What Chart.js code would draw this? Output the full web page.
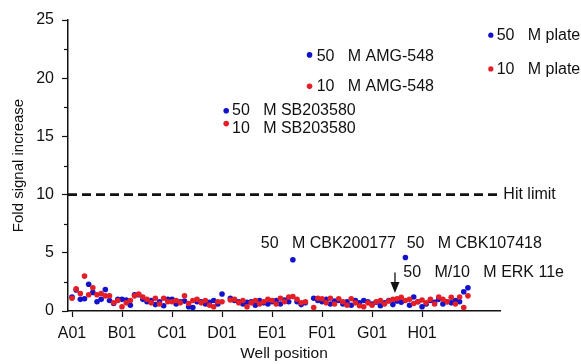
<!DOCTYPE html>
<html>
<head>
<meta charset="utf-8">
<script src="https://cdn.jsdelivr.net/npm/chart.js@4.4.1/dist/chart.umd.min.js"></script>
<style>
  html, body { margin: 0; padding: 0; background: #ffffff; }
  #wrap { width: 581px; height: 364px; position: relative; }
</style>
</head>
<body>
<div id="wrap"><canvas id="c" width="581" height="364"></canvas></div>
<script>
// ---- Data ----
const rowTickLabels = ['A01','B01','C01','D01','E01','F01','G01','H01'];
const wellsPerRow = 12;

// 50 µM screen (blue), well index 0..95 (A01..H12)
const blue50 = [
  1.2, 1.8, 1.0, 1.05, 2.3, 1.6, 0.8, 1.0, 1.85, 0.9, 0.65, 1.0,
  1.0, 0.95, 0.5, 1.4, 1.4, 1.0, 0.8, 0.9, 0.55, 0.8, 0.45, 1.0,
  1.0, 0.6, 0.8, 0.85, 0.37, 0.3, 0.8, 0.8, 0.6, 0.75, 0.9, 0.6,
  1.46, 17.2, 1.1, 0.9, 0.8, 0.6, 0.75, 0.8, 0.5, 0.9, 0.7, 0.6,
  0.8, 0.9, 0.6, 0.95, 0.8, 4.4, 0.8, 0.55, 0.7, 22.0, 1.1, 0.9,
  0.8, 1.0, 0.6, 0.85, 0.9, 0.6, 0.8, 0.5, 0.9, 0.7, 0.9, 0.8,
  0.6, 0.75, 0.45, 0.7, 0.9, 0.55, 0.85, 0.75, 4.6, 0.5, 1.2, 0.8,
  0.37, 0.6, 0.9, 0.75, 1.0, 0.6, 0.8, 0.7, 0.9, 0.8, 1.65, 2.0
];
// 10 µM screen (red)
const red10 = [
  1.1, 1.9, 1.5, 3.0, 1.4, 2.0, 1.4, 1.5, 1.3, 1.3, 0.7, 0.9,
  0.37, 0.7, 0.9, 1.3, 1.45, 1.2, 1.0, 0.7, 1.1, 0.6, 1.1, 0.8,
  0.8, 0.9, 0.7, 1.3, 0.65, 0.9, 1.0, 0.7, 0.9, 0.5, 0.37, 0.8,
  0.8, 16.1, 0.95, 1.0, 0.7, 0.9, 0.37, 0.7, 0.9, 0.6, 0.8, 1.0,
  0.9, 0.6, 1.1, 0.8, 1.2, 1.25, 1.0, 0.7, 0.8, 19.3, 0.3, 1.1,
  1.05, 0.7, 1.1, 0.6, 1.05, 0.8, 0.5, 1.05, 0.7, 0.45, 0.37, 0.7,
  0.5, 0.8, 0.9, 0.6, 0.86, 1.0, 1.05, 1.18, 0.9, 1.0, 0.65, 0.8,
  0.95, 0.7, 1.0, 0.6, 1.2, 1.0, 0.8, 1.18, 0.6, 1.2, 0.3, 1.3
];
// plate controls
const platePosition = 100.5;
const plateBlue50 = 23.7;
const plateRed10 = 20.8;
const hitLimit = 10;

// annotation texts (anchored in data coordinates)
const annotations = [
  { text: '50   M SB203580', x: 38.4, y: 17.2 },
  { text: '10   M SB203580', x: 38.4, y: 15.64 },
  { text: '50   M AMG-548', x: 58.7, y: 21.85 },
  { text: '10   M AMG-548', x: 58.7, y: 19.27 },
  { text: '50   M plate', x: 101.9, y: 23.63 },
  { text: '10   M plate', x: 101.9, y: 20.76 },
  { text: '50   M CBK200177', x: 45.3, y: 5.82 },
  { text: '50   M CBK107418', x: 80.3, y: 5.82 },
  { text: '50   M/10   M ERK 11e', x: 79.5, y: 3.29 },
  { text: 'Hit limit', x: 103.5, y: 10 }
];
const arrow = { x: 77.5, yFrom: 3.3, yTo: 1.55 };

// ---- Build datasets ----
const toPts = arr => arr.map((v, i) => ({ x: i, y: v }));
const BLUE = 'rgb(18,18,205)';
const RED = 'rgb(228,30,38)';
const FONT = "'Liberation Sans', Arial, Helvetica, sans-serif";

const xMin = -0.96, xMax = 102.7;

const overlayPlugin = {
  id: 'overlay',
  afterDraw(chart) {
    const { ctx, scales } = chart;
    const xs = scales.x, ys = scales.y;
    ctx.save();
    // minor y ticks
    ctx.strokeStyle = '#111';
    ctx.lineWidth = 1.2;
    for (let v = 2.5; v < 25; v += 5) {
      const py = Math.round(ys.getPixelForValue(v)) + 0.5;
      ctx.beginPath();
      ctx.moveTo(xs.left - 4, py);
      ctx.lineTo(xs.left, py);
      ctx.stroke();
    }
    // labels
    ctx.fillStyle = '#111';
    ctx.font = '16px ' + FONT;
    ctx.textAlign = 'left';
    ctx.textBaseline = 'middle';
    annotations.forEach(a => {
      ctx.fillText(a.text, xs.getPixelForValue(a.x), ys.getPixelForValue(a.y));
    });
    // arrow
    const ax = xs.getPixelForValue(arrow.x);
    const y1 = ys.getPixelForValue(arrow.yFrom);
    const y2 = ys.getPixelForValue(arrow.yTo);
    ctx.strokeStyle = '#111';
    ctx.lineWidth = 1.3;
    ctx.beginPath();
    ctx.moveTo(ax, y1);
    ctx.lineTo(ax, y2 - 8);
    ctx.stroke();
    ctx.beginPath();
    ctx.moveTo(ax - 4.5, y2 - 11);
    ctx.lineTo(ax + 4.5, y2 - 11);
    ctx.lineTo(ax, y2);
    ctx.closePath();
    ctx.fill();
    ctx.restore();
  }
};

const dotDefaults = { borderWidth: 0, showLine: false, pointHoverRadius: 3 };

new Chart(document.getElementById('c'), {
  type: 'scatter',
  data: {
    datasets: [
      {
        label: 'hit',
        type: 'line',
        data: [{ x: xMin, y: hitLimit }, { x: xMax, y: hitLimit }],
        borderColor: '#111',
        borderWidth: 2.6,
        borderDash: [9, 5],
        pointRadius: 0,
        fill: false
      },
      Object.assign({ label: '10 µM', data: toPts(red10), backgroundColor: RED, pointRadius: 2.8 }, dotDefaults),
      Object.assign({ label: '50 µM', data: toPts(blue50), backgroundColor: BLUE, pointRadius: 2.8 }, dotDefaults),
      Object.assign({ label: 'plate10', data: [{ x: platePosition, y: plateRed10 }], backgroundColor: RED, pointRadius: 2.6 }, dotDefaults),
      Object.assign({ label: 'plate50', data: [{ x: platePosition, y: plateBlue50 }], backgroundColor: BLUE, pointRadius: 2.6 }, dotDefaults)
    ]
  },
  options: {
    responsive: false,
    animation: false,
    devicePixelRatio: 1,
    clip: false,
    layout: { padding: { left: 0, right: 81, top: 20, bottom: 0 } },
    plugins: { legend: { display: false }, tooltip: { enabled: false } },
    scales: {
      x: {
        type: 'linear',
        min: xMin,
        max: xMax,
        afterBuildTicks(scale) {
          scale.ticks = rowTickLabels.map((l, i) => ({ value: i * wellsPerRow }));
        },
        afterFit(scale) { scale.height = 53; },
        ticks: {
          autoSkip: false,
          maxRotation: 0,
          padding: 7,
          color: '#111',
          font: { family: FONT, size: 16 },
          callback: (v) => rowTickLabels[Math.round(v / wellsPerRow)]
        },
        grid: { drawOnChartArea: false, drawTicks: true, tickLength: 6, color: '#111', tickWidth: 1.2 },
        border: { display: true, color: '#111', width: 1.5 },
        title: { display: true, text: 'Well position', color: '#111', font: { family: FONT, size: 15.5 }, padding: { top: 0, bottom: 1 } }
      },
      y: {
        min: 0,
        max: 25,
        afterFit(scale) { scale.width = 68; },
        ticks: { stepSize: 5, padding: 8, color: '#111', font: { family: FONT, size: 16 } },
        grid: { drawOnChartArea: false, drawTicks: true, tickLength: 6, color: '#111', tickWidth: 1.2 },
        border: { display: true, color: '#111', width: 1.5 },
        title: { display: true, text: 'Fold signal increase', color: '#111', font: { family: FONT, size: 15 }, padding: { top: 10, bottom: 0 } }
      }
    }
  },
  plugins: [overlayPlugin]
});
</script>
</body>
</html>
